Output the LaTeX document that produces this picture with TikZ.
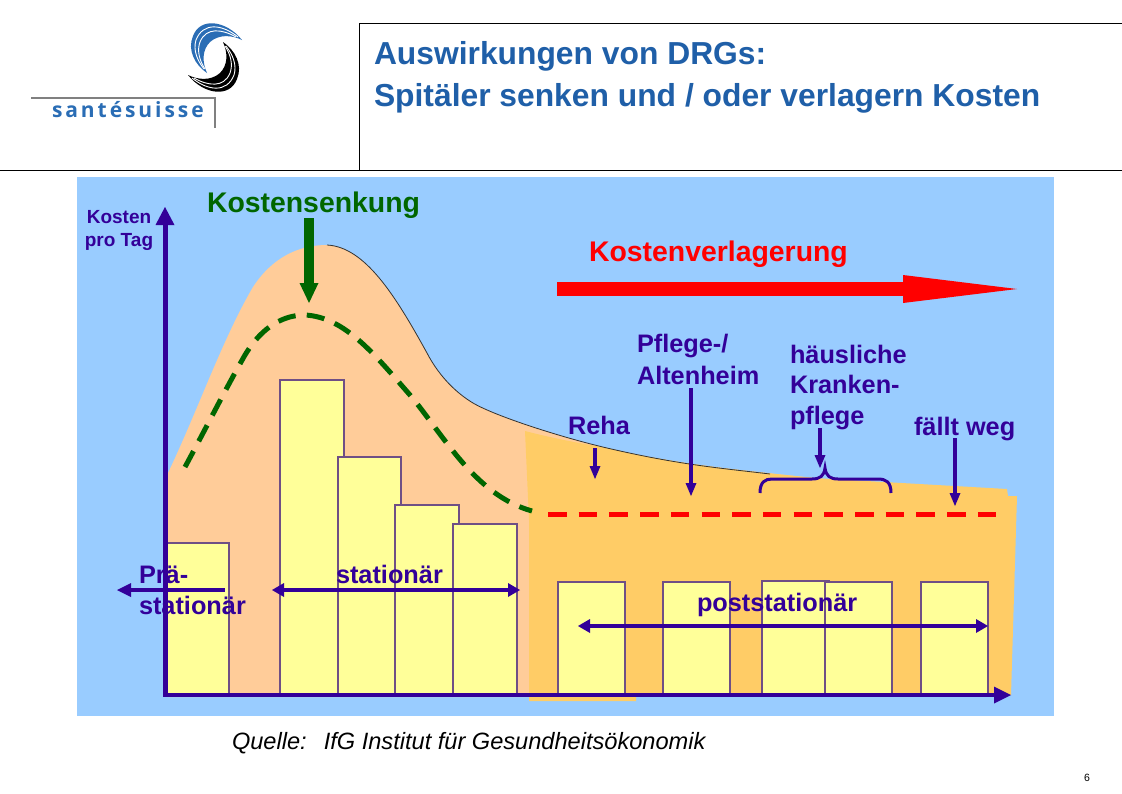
\documentclass[tikz,border=0pt]{standalone}
\usepackage{fontspec}
\setmainfont{Liberation Sans}
\newfontfamily\brandfont{Open Sans}
\usetikzlibrary{arrows.meta}
\definecolor{bgblue}{HTML}{99CCFF}
\definecolor{peach}{HTML}{FFCC99}
\definecolor{orangeb}{HTML}{FFCC66}
\definecolor{paley}{HTML}{FFFF99}
\definecolor{navy}{HTML}{330099}
\definecolor{dgreen}{HTML}{006600}
\definecolor{barline}{HTML}{6F4F85}
\definecolor{titleblue}{HTML}{1F5FA8}
\definecolor{logoblue}{HTML}{2A6DB5}
\newcommand{\fsz}[1]{\fontsize{#1}{#1}\selectfont}
\newcommand{\swooshshape}{(242,40) .. controls (226,20) and (200,17) .. (193,36) .. controls (187,50) and (195,65) .. (207,73) .. controls (202,62) and (202,50) .. (210,42) .. controls (219,34) and (232,35) .. (242,40) -- cycle}
\newcommand{\swooshlines}{
  \draw[sep] (238,37) .. controls (222,24) and (203,22) .. (196,40) .. controls (193,50) and (197,60) .. (204,69);
  \draw[sep] (236,37) .. controls (222,29) and (206,27) .. (200,42) .. controls (197,50) and (199,60) .. (205,69);
}
\tikzset{
  x=1pt,y=-1pt,
  txt/.style={anchor=base west,inner sep=0pt,outer sep=0pt,font=\fsz{25.3}\bfseries,text=navy},
  ctr/.style={anchor=base,inner sep=0pt,outer sep=0pt,font=\fsz{19}\bfseries,text=navy},
  bar/.style={draw=barline,line width=1.1pt,fill=paley},
  frame/.style={draw=black,line width=1pt},
  navyarrow/.style={draw=navy,line width=3.2pt,-{Triangle[length=13pt,width=11pt,line width=0pt]}},
  navydouble/.style={draw=navy,line width=4pt,{Triangle[length=12pt,width=14pt,line width=0pt]}-{Triangle[length=12pt,width=14pt,line width=0pt]}},
  sep/.style={draw=white,line width=.9pt},
}
\begin{document}
\begin{tikzpicture}
\useasboundingbox (0,0) rectangle (1122,793);
\fill[white] (0,0) rectangle (1122,793);
% header frame
\draw[frame] (0,170) -- (1122,170);
\draw[frame] (359,170) -- (359,23) -- (1122,23);
% logo
\draw[draw=gray,line width=1.2pt] (31,98) -- (215,98) -- (215,128);
\fill[logoblue] \swooshshape;
\swooshlines
\begin{scope}[rotate around={180:(215,57.5)}]
\fill[black] \swooshshape;
\swooshlines
\end{scope}
\node[txt,text=logoblue,font=\fsz{21}\brandfont\bfseries\addfontfeature{LetterSpace=14}] (brand) at (52,117) {santésuisse};
% title
\node[txt,text=titleblue,font=\fsz{31.8}\bfseries] (t1) at (374,64) {Auswirkungen von DRGs:};
\node[txt,text=titleblue,font=\fsz{31.8}\bfseries] (t2) at (374,106) {Spitäler senken und / oder verlagern Kosten};
% chart background
\fill[bgblue] (77,177) rectangle (1054,716);
% peach area
\fill[peach] (168,697) -- (168,473) .. controls (198,410) and (222,340) .. (253,287)
  .. controls (272,258) and (298,245) .. (327,245)
  .. controls (365,247) and (395,295) .. (427,353)
  .. controls (440,378) and (458,394) .. (473,403)
  .. controls (495,416) and (560,437) .. (607,448)
  .. controls (680,465) and (740,470) .. (814,478)
  -- (814,600) -- (540,697) -- cycle;
% orange area
\fill[orangeb] (525,431) .. controls (560,440) and (580,443) .. (607,448)
  .. controls (680,465) and (740,470) .. (814,478)
  -- (1007,489) -- (1008,496) -- (1017,496) -- (1011,695) -- (636,695) -- (636,701) -- (529,701) -- (529,520) -- cycle;
% curve outline
\draw[black!80,line width=.8pt] (327,245)
  .. controls (365,247) and (395,295) .. (427,353)
  .. controls (440,378) and (458,394) .. (473,403)
  .. controls (495,416) and (560,437) .. (607,448)
  .. controls (680,465) and (720,468) .. (770,474);
% bars
\draw[bar] (165,543) rectangle (229,695);
\draw[bar] (280,380) rectangle (344,695);
\draw[bar] (338,457) rectangle (401,695);
\draw[bar] (395,505) rectangle (459,695);
\draw[bar] (453,524) rectangle (517,695);
\draw[bar] (558,582) rectangle (625,695);
\draw[bar] (663,582) rectangle (730,695);
\draw[bar] (762,581) rectangle (829,695);
\draw[bar] (825,582) rectangle (892,695);
\draw[bar] (921,582) rectangle (988,695);
% axes
\coordinate (origin) at (165,695);
\coordinate (ytip) at (165,207);
\coordinate (xstart) at (163,695);
\coordinate (xtip) at (1011,695);
\draw[navy,line width=5pt,-{Triangle[length=18pt,width=19pt,line width=0pt]}] (origin) -- (ytip);
\draw[navy,line width=4pt,-{Triangle[length=17pt,width=17pt,line width=0pt]}] (xstart) -- (xtip);
% dashed curves
\draw[dgreen,line width=5pt,dash pattern=on 18pt off 11.2pt] (185,467)
  .. controls (205,430) and (225,390) .. (245,355)
  .. controls (263,325) and (285,315) .. (305,315)
  .. controls (345,317) and (375,355) .. (410,395)
  .. controls (445,437) and (475,495) .. (532,511);
\draw[red,line width=5pt,dash pattern=on 18.5pt off 12.2pt] (548,514) -- (998,514);
% big arrows
\coordinate (rs) at (557,289);
\coordinate (re) at (1017,289);
\draw[red,line width=14pt,-{Triangle[length=114pt,width=28pt,line width=0pt]}] (rs) -- (re);
\coordinate (gs) at (309,218);
\coordinate (ge) at (309,303);
\draw[dgreen,line width=10pt,-{Triangle[length=20pt,width=19pt,line width=0pt]}] (gs) -- (ge);
% labels
\node[ctr] (ko) at (119,223) {Kosten};
\node[ctr] (pt) at (119,246) {pro Tag};
\node[txt,font=\fsz{28.4}\bfseries,text=dgreen] (ks) at (207,212) {Kostensenkung};
\node[txt,font=\fsz{28.4}\bfseries,text=red] (kv) at (589,261) {Kostenverlagerung};
\node[txt] (pf) at (637,352) {Pflege-/};
\node[txt] (al) at (637,384) {Altenheim};
\node[txt] (hk1) at (790,363) {häusliche};
\node[txt] (hk2) at (790,393) {Kranken-};
\node[txt] (hk3) at (790,424) {pflege};
\node[txt] (re1) at (568,434) {Reha};
\node[txt] (fw) at (914,435) {fällt weg};
\node[txt] (st) at (336,583) {stationär};
\node[txt] (pr1) at (139,583) {Prä-};
\node[txt] (pr2) at (139,614) {stationär};
\node[txt] (po) at (697,611) {poststationär};
% thin arrows
\coordinate (a1s) at (595,448); \coordinate (a1e) at (595,479);
\coordinate (a2s) at (691,388); \coordinate (a2e) at (691,496);
\coordinate (a3s) at (820,428); \coordinate (a3e) at (820,468);
\coordinate (a4s) at (955,438); \coordinate (a4e) at (955,506);
\draw[navyarrow] (a1s) -- (a1e);
\draw[navyarrow] (a2s) -- (a2e);
\draw[navyarrow] (a3s) -- (a3e);
\draw[navyarrow] (a4s) -- (a4e);
% brace
\draw[navy,line width=3pt] (760,493) .. controls (760,482) and (765,479) .. (772,479)
  -- (812,479) .. controls (820,479) and (824,476) .. (825,468)
  .. controls (826,476) and (830,479) .. (838,479)
  -- (878,479) .. controls (886,479) and (891,482) .. (891,493);
% range arrows
\coordinate (d1a) at (117,590); \coordinate (d1b) at (225,590);
\coordinate (d2a) at (272,590); \coordinate (d2b) at (520,590);
\coordinate (d3a) at (578,626); \coordinate (d3b) at (988,626);
\draw[navy,line width=4pt,{Triangle[length=14pt,width=14pt,line width=0pt]}-] (d1a) -- (d1b);
\draw[navydouble] (d2a) -- (d2b);
\draw[navydouble] (d3a) -- (d3b);
% footer
\node[txt,font=\fsz{23.6}\itshape,text=black] (src) at (232,749) {Quelle:\hspace{17pt}IfG Institut für Gesundheitsökonomik};
\node[txt,font=\fsz{10.5},text=black] (pg) at (1084,781) {6};
\end{tikzpicture}
\end{document}
